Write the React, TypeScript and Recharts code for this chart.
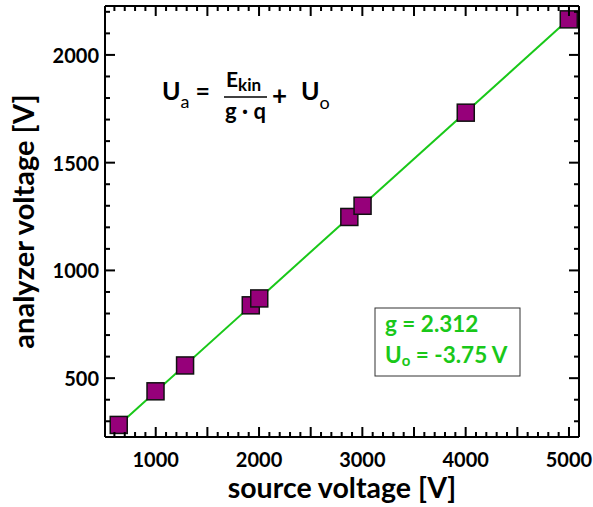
import { ScatterChart, Scatter, XAxis, YAxis } from "recharts";

// ── Data ────────────────────────────────────────────────────────────────────

const sourceVoltage = [642, 998, 1284, 1920, 2002, 2874, 3002, 4001, 4998];
const analyzerVoltage = [283, 439, 559, 838, 870, 1248, 1300, 1732, 2165];

// fitted line (g = 2.312, Uo = -3.75 V), endpoints
const fitSource = [642, 4998];
const fitAnalyzer = [283, 2165];

const xDomain: [number, number] = [509, 5097];
const yDomain: [number, number] = [227, 2227];

// ticks every 100 V, labels on the round values
const xTicks = Array.from({ length: 45 }, (_, i) => 600 + i * 100);
const yTicks = Array.from({ length: 20 }, (_, i) => 300 + i * 100);
const xLabelTicks = [1000, 2000, 3000, 4000, 5000];
const yLabelTicks = [500, 1000, 1500, 2000];

const points = sourceVoltage.map((x, i) => ({ x, y: analyzerVoltage[i] }));
const fitData = fitSource.map((x, i) => ({ x, y: fitAnalyzer[i] }));

const FONT = "Lato, 'Open Sans', sans-serif";
const GREEN = "#19c819";
const PURPLE = "#96007a";

// ── Inward ticks (major every 500, minor every 100) ─────────────────────────

const tickLen = (v: number) => (v % 500 === 0 ? 10 : 5);

function BottomTick({ x, y, payload }: any) {
  const v = payload.value;
  return (
    <g>
      <rect x={x - 1} y={y - tickLen(v)} width={2} height={tickLen(v)} fill="#000" />
      {xLabelTicks.includes(v) && (
        <text x={x} y={y + 30} textAnchor="middle" fontFamily={FONT} fontWeight={700} fontSize={20} fill="#000">
          {v}
        </text>
      )}
    </g>
  );
}

function TopTick({ x, y, payload }: any) {
  return <rect x={x - 1} y={y} width={2} height={tickLen(payload.value)} fill="#000" />;
}

function LeftTick({ x, y, payload }: any) {
  const v = payload.value;
  return (
    <g>
      <rect x={x} y={y - 1} width={tickLen(v)} height={2} fill="#000" />
      {yLabelTicks.includes(v) && (
        <text x={x - 6} y={y + 8} textAnchor="end" fontFamily={FONT} fontWeight={700} fontSize={20} fill="#000">
          {v}
        </text>
      )}
    </g>
  );
}

function RightTick({ x, y, payload }: any) {
  const len = tickLen(payload.value);
  return <rect x={x - len} y={y - 1} width={len} height={2} fill="#000" />;
}

function SquareDot({ cx, cy }: any) {
  const s = 17;
  return <rect x={cx - s / 2} y={cy - s / 2} width={s} height={s} fill={PURPLE} stroke="#111" strokeWidth={1.5} />;
}

const NoDot = () => <g />;

// ── Chart ───────────────────────────────────────────────────────────────────

export default function App() {
  const axisLine = { stroke: "#000", strokeWidth: 2 };
  return (
    <div style={{ position: "absolute", left: 0, top: 0, width: 593, height: 507, background: "#fff" }}>
      <ScatterChart width={593} height={507} margin={{ top: 5, right: 13, bottom: 0, left: 0 }}>
        <XAxis
          xAxisId="b"
          type="number"
          dataKey="x"
          domain={xDomain}
          ticks={xTicks}
          interval={0}
          tick={<BottomTick />}
          tickLine={false}
          tickSize={0}
          tickMargin={0}
          axisLine={axisLine}
          height={70}
          label={{
            value: "source voltage [V]",
            position: "insideBottom",
            offset: 9,
            style: { fontFamily: FONT, fontWeight: 700, fontSize: 28.5, fill: "#000" },
          }}
        />
        <XAxis
          xAxisId="t"
          orientation="top"
          type="number"
          dataKey="x"
          domain={xDomain}
          ticks={xTicks}
          interval={0}
          tick={<TopTick />}
          tickLine={false}
          tickSize={0}
          tickMargin={0}
          axisLine={axisLine}
          height={1}
        />
        <YAxis
          yAxisId="l"
          type="number"
          dataKey="y"
          domain={yDomain}
          ticks={yTicks}
          interval={0}
          tick={<LeftTick />}
          tickLine={false}
          tickSize={0}
          tickMargin={0}
          axisLine={axisLine}
          width={105}
          label={{
            value: "analyzer voltage [V]",
            position: "insideLeft",
            angle: -90,
            offset: 24,
            style: { fontFamily: FONT, fontWeight: 700, fontSize: 29, fill: "#000", textAnchor: "middle" },
          }}
        />
        <YAxis
          yAxisId="r"
          orientation="right"
          type="number"
          dataKey="y"
          domain={yDomain}
          ticks={yTicks}
          interval={0}
          tick={<RightTick />}
          tickLine={false}
          tickSize={0}
          tickMargin={0}
          axisLine={axisLine}
          width={1}
        />
        <Scatter
          xAxisId="b"
          yAxisId="l"
          data={fitData}
          line={{ stroke: GREEN, strokeWidth: 2 }}
          shape={NoDot}
          isAnimationActive={false}
        />
        <Scatter xAxisId="b" yAxisId="l" data={points} shape={SquareDot} isAnimationActive={false} />
        <Scatter xAxisId="t" yAxisId="r" data={points} shape={NoDot} isAnimationActive={false} />
      </ScatterChart>

      {/* formula and fit result */}
      <svg
        width={593}
        height={507}
        style={{ position: "absolute", left: 0, top: 0, pointerEvents: "none" }}
        fontFamily={FONT}
        fontWeight={700}
      >
        <text x={162} y={100} fontSize={25}>
          <tspan>U</tspan>
          <tspan fontSize={18} fontWeight={400} dy={8}>a</tspan>
          <tspan dy={-8}> =</tspan>
        </text>
        <text x={226} y={87} fontSize={21}>
          <tspan>E</tspan>
          <tspan fontSize={17} dy={4}>kin</tspan>
        </text>
        <line x1={224} x2={267} y1={97} y2={97} stroke="#000" strokeWidth={1.5} />
        <text x={245.5} y={119} fontSize={22} textAnchor="middle">g · q</text>
        <text x={272} y={105} fontSize={26}>+</text>
        <text x={301} y={100} fontSize={25}>
          <tspan>U</tspan>
          <tspan fontSize={18} fontWeight={400} dy={9}>o</tspan>
        </text>

        <rect x={375} y={308} width={145} height={68} fill="#fff" stroke="#333" strokeWidth={1} />
        <text x={385} y={332} fontSize={22.5} fill={GREEN}>g = 2.312</text>
        <text x={385} y={363} fontSize={22.5} fill={GREEN}>
          <tspan>U</tspan>
          <tspan fontSize={15} dy={3}>o</tspan>
          <tspan dy={-3}> = -3.75 V</tspan>
        </text>
      </svg>
    </div>
  );
}
